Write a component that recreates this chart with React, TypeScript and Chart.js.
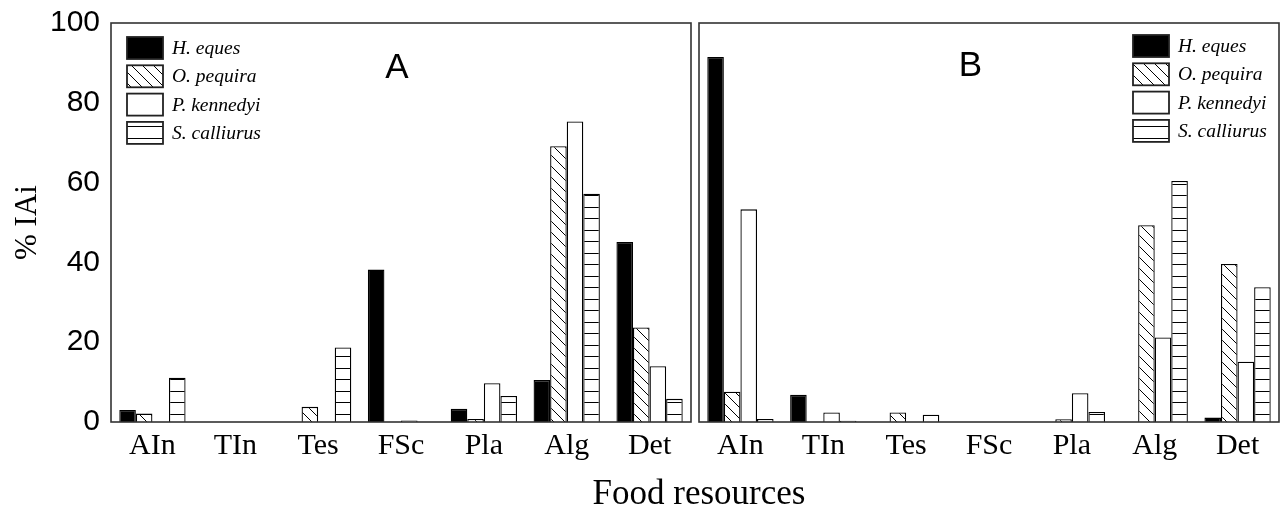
import React, { useEffect, useRef } from "react";
import { Chart, registerables } from "chart.js";

Chart.register(...registerables);

const categories = ["AIn", "TIn", "Tes", "FSc", "Pla", "Alg", "Det"];
const speciesNames = ["H. eques", "O. pequira", "P. kennedyi", "S. calliurus"];
const yTicks = [0, 20, 40, 60, 80, 100];

// Panel A
const aHEques = [3, 0, 0, 38.2, 3.3, 10.5, 45.1];
const aOPequira = [2.1, 0, 3.8, 0, 0.75, 69.1, 23.7];
const aPKennedyi = [0, 0, 0, 0.4, 9.7, 75.3, 14];
const aSCalliurus = [11.1, 0, 18.7, 0, 6.5, 57.2, 5.8];

// Panel B
const bHEques = [91.5, 6.8, 0, 0, 0, 0, 1.1];
const bOPequira = [7.6, 0, 2.4, 0, 0.7, 49.3, 39.6];
const bPKennedyi = [53.3, 2.4, 0, 0, 7.2, 21.2, 15.1];
const bSCalliurus = [0.75, 0.3, 1.8, 0, 2.5, 60.4, 33.8];

function makeDiagPattern(): CanvasPattern | string {
  const s = 11;
  const c = document.createElement("canvas");
  c.width = s;
  c.height = s;
  const g = c.getContext("2d");
  if (!g) return "#fff";
  g.fillStyle = "#fff";
  g.fillRect(0, 0, s, s);
  g.strokeStyle = "#000";
  g.lineWidth = 1;
  g.beginPath();
  g.moveTo(-1, -1);
  g.lineTo(s + 1, s + 1);
  g.moveTo(s - 2, -2);
  g.lineTo(s + 2, 2);
  g.moveTo(-2, s - 2);
  g.lineTo(2, s + 2);
  g.stroke();
  const p = g.createPattern(c, "repeat");
  return p || "#fff";
}

function makeHorizPattern(): CanvasPattern | string {
  const c = document.createElement("canvas");
  c.width = 8;
  c.height = 23;
  const g = c.getContext("2d");
  if (!g) return "#fff";
  g.fillStyle = "#fff";
  g.fillRect(0, 0, 8, 23);
  g.fillStyle = "#000";
  g.fillRect(0, 0, 8, 1);
  g.fillRect(0, 11, 8, 1);
  const p = g.createPattern(c, "repeat");
  return p || "#fff";
}

const framePlugin = {
  id: "frame",
  afterDatasetsDraw(chart: any) {
    const { ctx, chartArea } = chart;
    ctx.save();
    ctx.strokeStyle = "#333";
    ctx.lineWidth = 1.6;
    ctx.strokeRect(chartArea.left, chartArea.top, chartArea.right - chartArea.left, chartArea.bottom - chartArea.top);
    ctx.restore();
  },
};

function legendPlugin(fills: any[], side: "left" | "right") {
  return {
    id: "customLegend",
    afterDraw(chart: any) {
      const { ctx, chartArea } = chart;
      const boxW = 36;
      const boxH = 22;
      const x0 = side === "left" ? chartArea.left + 16 : chartArea.right - 146;
      const y0 = side === "left" ? chartArea.top + 14 : chartArea.top + 12;
      const step = 28.3;
      ctx.save();
      speciesNames.forEach((name, i) => {
        const y = y0 + i * step;
        ctx.fillStyle = fills[i];
        ctx.fillRect(x0, y, boxW, boxH);
        ctx.strokeStyle = "#222";
        ctx.lineWidth = 1.8;
        ctx.strokeRect(x0, y, boxW, boxH);
        ctx.fillStyle = "#000";
        ctx.font = "italic 19.5px 'Liberation Serif'";
        ctx.textBaseline = "middle";
        ctx.textAlign = "left";
        ctx.fillText(name, x0 + 45, y + boxH / 2 + 1);
      });
      ctx.restore();
    },
  };
}

function panelLabelPlugin(text: string, offsetFromCenter: number, y: number) {
  return {
    id: "panelLabel",
    afterDraw(chart: any) {
      const { ctx, chartArea } = chart;
      const cx = (chartArea.left + chartArea.right) / 2 + offsetFromCenter;
      ctx.save();
      ctx.fillStyle = "#000";
      ctx.font = "35px 'Liberation Sans'";
      ctx.textAlign = "center";
      ctx.textBaseline = "middle";
      ctx.fillText(text, cx, y);
      ctx.restore();
    },
  };
}

function buildDatasets(values: number[][], fills: any[]) {
  return values.map((v, i) => ({
    label: speciesNames[i],
    data: v,
    backgroundColor: fills[i],
    borderColor: "#000",
    borderWidth: 1.3,
    categoryPercentage: 0.8,
    barPercentage: 1.0,
  }));
}

function makeOptions(showY: boolean, padLeft: number, padRight: number) {
  return {
    animation: false,
    responsive: false,
    maintainAspectRatio: false,
    layout: { padding: { top: 23, right: padRight, left: padLeft, bottom: 0 } },
    plugins: { legend: { display: false }, tooltip: { enabled: false } },
    scales: {
      x: {
        grid: { display: false, drawTicks: false },
        border: { display: false },
        ticks: {
          font: { family: "'Liberation Serif'", size: 30 },
          color: "#000",
          padding: 6,
          maxRotation: 0,
          autoSkip: false,
        },
        afterFit: (s: any) => {
          s.height = 88;
          s.paddingLeft = 0;
          s.paddingRight = 0;
        },
      },
      y: {
        display: showY,
        min: 0,
        max: 100,
        afterBuildTicks: (s: any) => {
          s.ticks = yTicks.map((v) => ({ value: v }));
        },
        grid: { display: false, drawTicks: false },
        border: { display: false },
        ticks: {
          font: { family: "'Liberation Sans'", size: 30 },
          color: "#000",
          padding: 11,
        },
        title: {
          display: true,
          text: "% IAi",
          font: { family: "'Liberation Serif'", size: 31 },
          color: "#000",
          padding: { top: 9, bottom: 0 },
        },
        afterFit: (s: any) => {
          s.width = showY ? 111 : 0;
          s.paddingTop = 0;
          s.paddingBottom = 0;
        },
      },
    },
  };
}

export default function App() {
  const refA = useRef<HTMLCanvasElement | null>(null);
  const refB = useRef<HTMLCanvasElement | null>(null);

  useEffect(() => {
    const fills = ["#000", makeDiagPattern(), "#fff", makeHorizPattern()];
    const charts: Chart[] = [];
    if (refA.current) {
      charts.push(
        new Chart(refA.current, {
          type: "bar",
          data: {
            labels: categories,
            datasets: buildDatasets([aHEques, aOPequira, aPKennedyi, aSCalliurus], fills) as any,
          },
          options: makeOptions(true, 0, 4) as any,
          plugins: [framePlugin, legendPlugin(fills, "left"), panelLabelPlugin("A", -4, 68)],
        })
      );
    }
    if (refB.current) {
      charts.push(
        new Chart(refB.current, {
          type: "bar",
          data: {
            labels: categories,
            datasets: buildDatasets([bHEques, bOPequira, bPKennedyi, bSCalliurus], fills) as any,
          },
          options: makeOptions(false, 4, 3) as any,
          plugins: [framePlugin, legendPlugin(fills, "right"), panelLabelPlugin("B", -18.5, 66)],
        })
      );
    }
    return () => charts.forEach((c) => c.destroy());
  }, []);

  return (
    <div style={{ position: "fixed", left: 0, top: 0, width: 1282, height: 510, background: "#fff", overflow: "hidden" }}>
      <canvas ref={refA} width={695} height={510} style={{ position: "absolute", left: 0, top: 0 }} />
      <canvas ref={refB} width={587} height={510} style={{ position: "absolute", left: 695, top: 0 }} />
      <div
        style={{
          position: "absolute",
          left: 699,
          top: 473,
          transform: "translateX(-50%)",
          whiteSpace: "nowrap",
          fontFamily: "'Liberation Serif'",
          fontSize: 35,
          lineHeight: "40px",
          color: "#000",
        }}
      >
        Food resources
      </div>
    </div>
  );
}
